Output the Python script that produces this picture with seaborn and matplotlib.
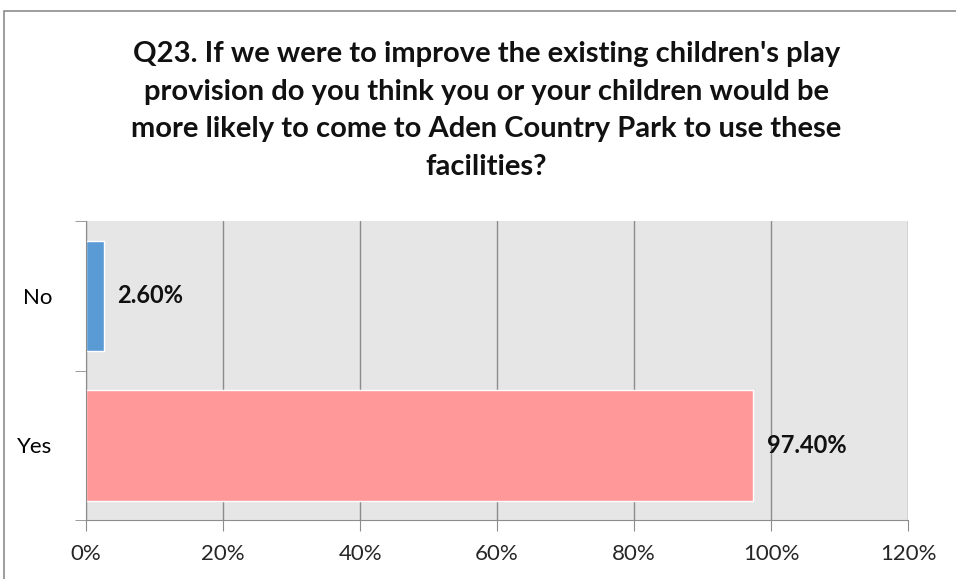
import matplotlib.pyplot as plt
import matplotlib.patches as mpatches
import pandas as pd
import seaborn as sns
from matplotlib.ticker import FuncFormatter

# Data
answers = ['No', 'Yes']
shares = [0.026, 0.974]
bar_colors = ['#5B9BD5', '#FF9999']
title = ("Q23. If we were to improve the existing children's play\n"
         "provision do you think you or your children would be\n"
         "more likely to come to Aden Country Park to use these\n"
         "facilities?")

df = pd.DataFrame({'answer': answers, 'share': shares})

sns.set_style('white')
plt.rcParams['font.family'] = ['Lato', 'DejaVu Sans']

fig = plt.figure(figsize=(9.56, 5.79), dpi=100)
ax = fig.add_axes([0.090, 0.102, 0.860, 0.516])

sns.barplot(data=df, x='share', y='answer', hue='answer', palette=bar_colors,
            orient='h', width=0.74, legend=False, ax=ax, saturation=1)

ax.set_facecolor('#E6E6E6')
ax.set_xlim(0, 1.2)
ax.set_xticks([0, 0.2, 0.4, 0.6, 0.8, 1.0, 1.2])
ax.xaxis.set_major_formatter(FuncFormatter(lambda v, p: f'{v * 100:.0f}%'))
ax.grid(axis='x', color='#8C8C8C', linewidth=1)
ax.set_axisbelow(True)
ax.set_xlabel('')
ax.set_ylabel('')

for side in ['top', 'right']:
    ax.spines[side].set_visible(False)
for side in ['left', 'bottom']:
    ax.spines[side].set_color('#8C8C8C')

# category boundary ticks on y axis
ax.set_yticks([0, 1])
ax.set_yticks([-0.5, 0.5, 1.5], minor=True)
ax.tick_params(axis='y', which='major', length=0, pad=24, labelsize=16, colors='#000000')
ax.tick_params(axis='y', which='minor', length=8, color='#8C8C8C', direction='out', left=True)
ax.tick_params(axis='x', length=8, color='#8C8C8C', direction='out', bottom=True,
               labelsize=16, pad=9)
ax.set_ylim(1.5, -0.5)

for i, v in enumerate(shares):
    ax.text(v + 0.02, i, f'{v * 100:.2f}%', va='center', ha='left',
            fontsize=17, fontweight='bold', color='#111111')

fig.text(0.509, 0.809, title, ha='center', va='center', fontsize=21,
         fontweight='bold', linespacing=1.55, color='#111111')

# chart area border
fig.patches.append(mpatches.Rectangle((4 / 956, -0.01), 1.0, 1 - 11 / 579 + 0.01,
                                      transform=fig.transFigure, fill=False,
                                      edgecolor='#8C8C8C', linewidth=1.2))

fig.savefig('out.png', dpi=100)
